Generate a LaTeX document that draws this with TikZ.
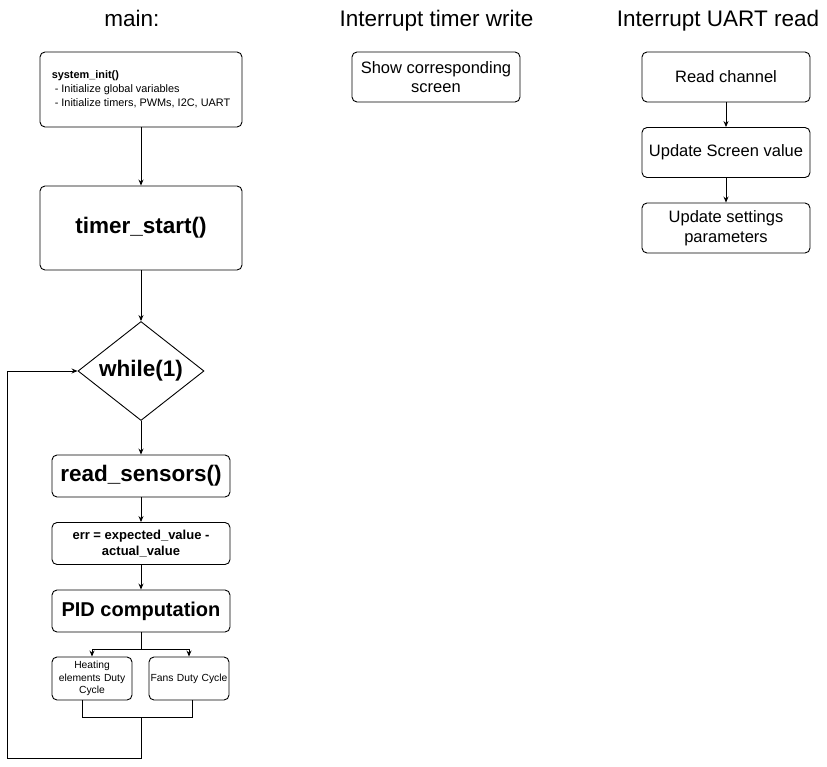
\documentclass[tikz,border=0pt]{standalone}
\usepackage{fontspec}
\setmainfont{Liberation Sans}
\usetikzlibrary{positioning,arrows.meta,shapes.geometric}
\definecolor{lineCol}{RGB}{0,0,0}
\newcommand{\fsz}[1]{\fontsize{#1}{1.2\dimexpr#1pt\relax}\selectfont}
\tikzset{
  box/.style={rectangle,rounded corners=5pt,draw=lineCol,line width=0.9pt,
    fill=white,inner sep=0pt,align=center,font=\fsz{16.5}},
  bigbox/.style={box,minimum width=202pt,minimum height=84pt,
    font=\bfseries\fsz{22.5}},
  loopbox/.style={box,minimum width=178pt,minimum height=42pt},
  isrbox/.style={box,minimum width=168pt,minimum height=50pt},
  duty/.style={box,minimum width=80pt,minimum height=43pt,
    font=\fsz{10.3},text width=78pt},
  cond/.style={diamond,draw=lineCol,line width=0.9pt,inner sep=0pt,
    aspect=1.27,minimum width=126pt,minimum height=99pt,
    font=\bfseries\fsz{22.5}},
  title/.style={anchor=base,font=\fsz{22.5}},
  arr/.style={-{Stealth[length=6pt,width=5pt]},line width=0.9pt,
    color=lineCol},
  wire/.style={line width=0.9pt,color=lineCol},
}
\begin{document}
\begin{tikzpicture}[x=1pt,y=-1pt]
\useasboundingbox (0,0) rectangle (827,766);

% =====================================================================
%  MAIN — init, timer, endless loop
% =====================================================================
\node[title] (tmain) at (132,26) {main:};

\node[box,minimum width=202pt,minimum height=75pt,
  align=left,font=\fontsize{10.9}{14}\selectfont] (init) at (141,89.5)
  {\textbf{system\_init()}\\\ - Initialize global variables\\\ - Initialize timers, PWMs, I2C, UART};
\node[bigbox] (tstart) at (141,228) {timer\_start()};
\node[cond] (loop) at (141,371) {while(1)};

\node[loopbox,font=\bfseries\fsz{22.5}] (sens) at (141,476) {read\_sensors()};
\node[loopbox,font=\bfseries\fsz{13}] (err) at (141,543.5)
  {err = expected\_value -\\actual\_value};
\node[loopbox,font=\bfseries\fsz{20}] (pid) at (141,611) {PID computation};

% --- Duty cycle outputs ---
\node[duty] (heat) at (92,678.5) {Heating\\elements Duty\\Cycle};
\node[duty] (fans) at (189,678.5) {Fans Duty Cycle};

% ----- Arrows down the main column -----
\draw[arr] (init) -- (tstart);
\draw[arr] (tstart) -- (loop);
\draw[arr] (loop) -- (sens);
\draw[arr] (sens) -- (err);
\draw[arr] (err) -- (pid);

% PID → both duty cycles (split)
\draw[arr] (pid.south) -- ++(0,17) -| (heat.north);
\draw[arr] (pid.south) -- ++(0,17) -| (fans.north);

% Duty cycles join, then back up to while(1)
\coordinate (mrg) at (141,717);
\coordinate (loopL) at (7,758);
\draw[wire] ([xshift=-10pt]heat.south) -- ++(0,17) -| ([xshift=3pt]fans.south);
\draw[arr] (mrg) |- (loopL) |- (loop.west);

% =====================================================================
%  INTERRUPT TIMER WRITE
% =====================================================================
\node[title] (ttim) at (436.5,26) {Interrupt timer write};
\node[isrbox] (show) at (436,77) {Show corresponding\\screen};

% =====================================================================
%  INTERRUPT UART READ
% =====================================================================
\node[title] (tuart) at (718,26) {Interrupt UART read};
\node[isrbox] (rch) at (726,77) {Read channel};
\node[isrbox] (upd) at (726,152.5) {Update Screen value};
\node[isrbox] (set) at (726,228) {Update settings\\parameters};

\draw[arr] (rch) -- (upd);
\draw[arr] (upd) -- (set);

\end{tikzpicture}
\end{document}
